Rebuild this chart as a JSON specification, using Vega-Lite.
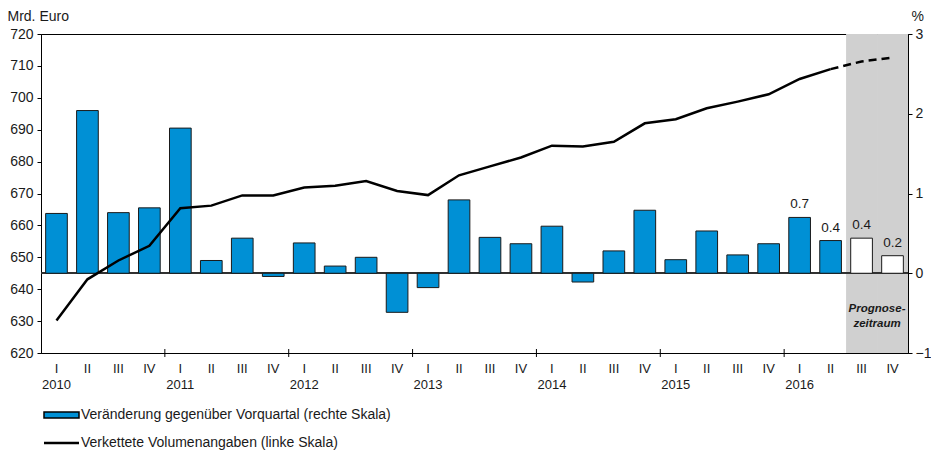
{
  "$schema": "https://vega.github.io/schema/vega-lite/v6.json",
  "width": 867,
  "height": 319,
  "autosize": {"type": "none"},
  "padding": {"left": 41, "top": 34, "right": 23, "bottom": 97},
  "config": {
    "font": "Liberation Sans",
    "view": {"stroke": "#000", "strokeWidth": 1},
    "axis": {"grid": false, "domainColor": "#000", "tickColor": "#000", "labelColor": "#1a1a1a", "labelFontSize": 14, "titleColor": "#1a1a1a", "titleFontWeight": "normal"}
  },
  "data": {
    "values": [
      {"q": "2010-I", "pct": 0.75, "vol": 630.2, "phase": "actual"},
      {"q": "2010-II", "pct": 2.04, "vol": 643.1, "phase": "actual"},
      {"q": "2010-III", "pct": 0.76, "vol": 649.0, "phase": "actual"},
      {"q": "2010-IV", "pct": 0.82, "vol": 653.6, "phase": "actual"},
      {"q": "2011-I", "pct": 1.82, "vol": 665.4, "phase": "actual"},
      {"q": "2011-II", "pct": 0.16, "vol": 666.2, "phase": "actual"},
      {"q": "2011-III", "pct": 0.44, "vol": 669.4, "phase": "actual"},
      {"q": "2011-IV", "pct": -0.04, "vol": 669.4, "phase": "actual"},
      {"q": "2012-I", "pct": 0.38, "vol": 671.9, "phase": "actual"},
      {"q": "2012-II", "pct": 0.09, "vol": 672.4, "phase": "actual"},
      {"q": "2012-III", "pct": 0.2, "vol": 673.9, "phase": "actual"},
      {"q": "2012-IV", "pct": -0.49, "vol": 670.8, "phase": "actual"},
      {"q": "2013-I", "pct": -0.18, "vol": 669.5, "phase": "actual"},
      {"q": "2013-II", "pct": 0.92, "vol": 675.7, "phase": "actual"},
      {"q": "2013-III", "pct": 0.45, "vol": 678.5, "phase": "actual"},
      {"q": "2013-IV", "pct": 0.37, "vol": 681.3, "phase": "actual"},
      {"q": "2014-I", "pct": 0.59, "vol": 685.0, "phase": "actual"},
      {"q": "2014-II", "pct": -0.11, "vol": 684.7, "phase": "actual"},
      {"q": "2014-III", "pct": 0.28, "vol": 686.2, "phase": "actual"},
      {"q": "2014-IV", "pct": 0.79, "vol": 692.0, "phase": "actual"},
      {"q": "2015-I", "pct": 0.17, "vol": 693.3, "phase": "actual"},
      {"q": "2015-II", "pct": 0.53, "vol": 696.7, "phase": "actual"},
      {"q": "2015-III", "pct": 0.23, "vol": 698.8, "phase": "actual"},
      {"q": "2015-IV", "pct": 0.37, "vol": 701.1, "phase": "actual"},
      {"q": "2016-I", "pct": 0.7, "vol": 705.9, "phase": "actual"},
      {"q": "2016-II", "pct": 0.41, "vol": 709.0, "phase": "actual"},
      {"q": "2016-III", "pct": 0.44, "vol": 711.4, "phase": "forecast"},
      {"q": "2016-IV", "pct": 0.22, "vol": 712.6, "phase": "forecast"}
    ]
  },
  "encoding": {
    "x": {
      "field": "q",
      "type": "nominal",
      "sort": null,
      "title": null,
      "scale": {
        "domain": ["2010-I","2010-II","2010-III","2010-IV","2011-I","2011-II","2011-III","2011-IV","2012-I","2012-II","2012-III","2012-IV","2013-I","2013-II","2013-III","2013-IV","2014-I","2014-II","2014-III","2014-IV","2015-I","2015-II","2015-III","2015-IV","2016-I","2016-II","2016-III","2016-IV"],
        "paddingInner": 0,
        "paddingOuter": 0
      },
      "axis": {
        "labelExpr": "split(datum.value,'-')[1] == 'I' ? [split(datum.value,'-')[1], split(datum.value,'-')[0]] : split(datum.value,'-')[1]",
        "labelAngle": 0,
        "ticks": false,
        "tickSize": 0,
        "labelPadding": 9,
        "labelFontSize": 13,
        "labelLineHeight": 16,
        "labelOverlap": false,
        "labelBound": false
      }
    }
  },
  "layer": [
    {
      "layer": [
        {
          "transform": [{"filter": "datum.phase == 'forecast'"}],
          "mark": {"type": "rect", "color": "#d0d0d0"},
          "encoding": {
            "y": {"datum": -1, "type": "quantitative", "title": "%", "scale": {"domain": [-1, 3]},
              "axis": {"orient": "right", "values": [-1, 0, 1, 2, 3], "format": "d", "labelOverlap": false, "labelFlush": false, "labelBound": false, "tickSize": 4, "labelPadding": 3, "titleAngle": 0, "titleAlign": "left", "titleBaseline": "alphabetic", "titleX": 3, "titleY": -14, "titleFontSize": 14}},
            "y2": {"datum": 3}
          }
        },
        {
          "mark": {"type": "rule", "color": "#333", "strokeWidth": 1.2},
          "encoding": {"y": {"datum": 0, "type": "quantitative", "title": "%"}, "x": null}
        },
        {
          "transform": [{"filter": "split(datum.q,'-')[1] == 'I' && datum.q != '2010-I'"}],
          "mark": {"type": "rule", "color": "#000", "strokeWidth": 1},
          "encoding": {
            "x": {"field": "q", "type": "nominal", "bandPosition": 0},
            "y": {"datum": -1.05, "type": "quantitative", "title": "%"},
            "y2": {"datum": -0.95}
          }
        },
        {
          "transform": [{"filter": "datum.phase == 'actual'"}],
          "mark": {"type": "bar", "width": {"band": 0.7}, "stroke": "#1a1a1a", "strokeWidth": 1},
          "encoding": {
            "y": {"field": "pct", "type": "quantitative", "title": "%"},
            "fill": {
              "datum": "Veränderung gegenüber Vorquartal (rechte Skala)",
              "scale": {"domain": ["Veränderung gegenüber Vorquartal (rechte Skala)"], "range": ["#0090d5"]},
              "legend": {
                "title": null,
                "orient": "none",
                "direction": "vertical",
                "legendX": 1,
                "legendY": 374,
                "padding": 0,
                "symbolSize": 100,
                "symbolOffset": 0,
                "symbolType": "M-1,-0.6H6V0.6H-1Z",
                "symbolStrokeColor": "#000",
                "symbolStrokeWidth": 1.5,
                "symbolOpacity": 1,
                "labelOffset": 25,
                "labelFontSize": 14,
                "labelColor": "#1a1a1a",
                "labelLimit": 450
              }
            }
          }
        },
        {
          "transform": [{"filter": "datum.phase == 'forecast'"}],
          "mark": {"type": "bar", "width": {"band": 0.7}, "fill": "#ffffff", "stroke": "#1a1a1a", "strokeWidth": 1},
          "encoding": {"y": {"field": "pct", "type": "quantitative", "title": "%"}}
        },
        {
          "transform": [{"filter": "indexof(datum.q,'2016') == 0"}],
          "mark": {"type": "text", "baseline": "alphabetic", "dy": -9, "fontSize": 13.5, "color": "#1a1a1a"},
          "encoding": {
            "y": {"field": "pct", "type": "quantitative", "title": "%"},
            "text": {"field": "pct", "type": "quantitative", "format": ".1f"}
          }
        },
        {
          "transform": [{"filter": "datum.q == '2016-IV'"}],
          "mark": {"type": "text", "text": ["Prognose-", "zeitraum"], "fontStyle": "italic", "fontWeight": "bold", "fontSize": 11.5, "lineHeight": 15.5, "align": "center", "baseline": "alphabetic", "color": "#1a1a1a"},
          "encoding": {
            "x": {"field": "q", "type": "nominal", "bandPosition": 0},
            "y": {"datum": -0.48, "type": "quantitative", "title": "%"}
          }
        }
      ]
    },
    {
      "layer": [
        {
          "transform": [{"filter": "datum.phase == 'actual'"}],
          "mark": {"type": "line", "strokeWidth": 2.5, "strokeJoin": "miter"},
          "encoding": {
            "y": {"field": "vol", "type": "quantitative", "title": "Mrd. Euro", "scale": {"domain": [620, 720]},
              "axis": {"orient": "left", "values": [620, 630, 640, 650, 660, 670, 680, 690, 700, 710, 720], "labelOverlap": false, "labelFlush": false, "tickSize": 4, "labelPadding": 4, "titleAngle": 0, "titleAlign": "left", "titleBaseline": "alphabetic", "titleX": -34, "titleY": -14, "titleFontSize": 14}},
            "stroke": {
              "datum": "Verkettete Volumenangaben (linke Skala)",
              "scale": {"domain": ["Verkettete Volumenangaben (linke Skala)"], "range": ["#000000"]},
              "legend": {
                "title": null,
                "orient": "none",
                "direction": "vertical",
                "legendX": 1,
                "legendY": 402,
                "padding": 0,
                "symbolSize": 100,
                "symbolOffset": 0,
                "symbolType": "M-1,0H6",
                "symbolStrokeWidth": 2.5,
                "symbolOpacity": 1,
                "labelOffset": 25,
                "labelFontSize": 14,
                "labelColor": "#1a1a1a",
                "labelLimit": 450
              }
            }
          }
        },
        {
          "transform": [{"filter": "datum.phase == 'forecast' || datum.q == '2016-II'"}],
          "mark": {"type": "line", "strokeWidth": 2.5, "color": "#000", "strokeDash": [8, 5]},
          "encoding": {
            "y": {"field": "vol", "type": "quantitative", "title": "Mrd. Euro",
              "axis": {"orient": "left", "values": [620, 630, 640, 650, 660, 670, 680, 690, 700, 710, 720], "labelOverlap": false, "labelFlush": false, "tickSize": 4, "labelPadding": 4, "titleAngle": 0, "titleAlign": "left", "titleBaseline": "alphabetic", "titleX": -34, "titleY": -14, "titleFontSize": 14}}
          }
        }
      ]
    }
  ],
  "resolve": {"scale": {"y": "independent"}}
}
